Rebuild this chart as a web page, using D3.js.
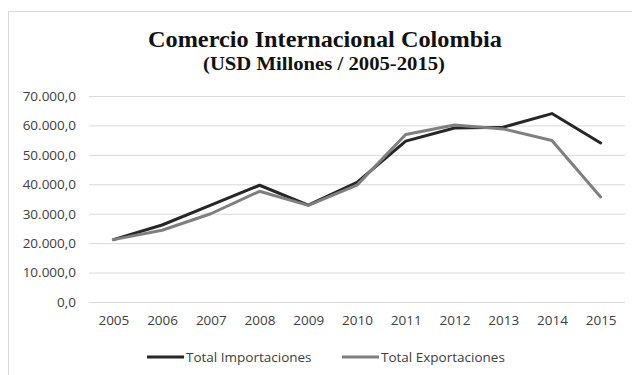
<!DOCTYPE html>
<html>
<head>
<meta charset="utf-8">
<script src="https://cdn.jsdelivr.net/npm/d3@7/dist/d3.min.js"></script>
<style>
  html, body { margin: 0; padding: 0; background: #fff; }
  svg { display: block; }
</style>
</head>
<body>
<svg id="chart" width="632" height="375"></svg>
<script>
// Colombia foreign trade, USD millions
const years = ["2005","2006","2007","2008","2009","2010","2011","2012","2013","2014","2015"];
const importaciones = [21204, 26162, 32897, 39669, 32898, 40683, 54675, 59111, 59397, 64029, 54058];
const exportaciones = [21190, 24391, 29991, 37626, 32846, 39713, 56915, 60125, 58824, 54857, 35691];
const yTicks = [0, 10000, 20000, 30000, 40000, 50000, 60000, 70000];
const seriesNames = ["Total Importaciones", "Total Exportaciones"];
const seriesColors = ["#262626", "#7f7f7f"];

const svg = d3.select("#chart");
const W = 632, H = 375;
const plot = { left: 89, right: 625, top: 96, bottom: 302 };

// chart frame
svg.append("rect")
  .attr("x", 8.5).attr("y", 11.5)
  .attr("width", W + 10).attr("height", H + 10)
  .attr("fill", "#fff").attr("stroke", "#d9d9d9").attr("stroke-width", 1);

// titles
const serif = "'Liberation Serif', 'Times New Roman', serif";
svg.append("text")
  .attr("x", 325).attr("y", 47)
  .attr("text-anchor", "middle")
  .attr("font-family", serif)
  .attr("font-weight", "bold").attr("font-size", 23)
  .attr("textLength", 354).attr("lengthAdjust", "spacingAndGlyphs")
  .attr("fill", "#111")
  .text("Comercio Internacional Colombia");
svg.append("text")
  .attr("x", 324).attr("y", 70)
  .attr("text-anchor", "middle")
  .attr("font-family", serif)
  .attr("font-weight", "bold").attr("font-size", 18.5)
  .attr("textLength", 242).attr("lengthAdjust", "spacingAndGlyphs")
  .attr("fill", "#111")
  .text("(USD Millones / 2005-2015)");

const x = d3.scalePoint().domain(years).range([plot.left, plot.right]).padding(0.5);
const y = d3.scaleLinear().domain([0, 70000]).range([plot.bottom, plot.top]);

const locale = d3.formatLocale({ decimal: ",", thousands: ".", grouping: [3], currency: ["$", ""] });
const fmt = locale.format(",.1f");

const labelFont = "'Open Sans', 'Noto Sans', sans-serif";
const labelSize = 13.5;

// y axis with gridlines
const yAxis = d3.axisLeft(y).tickValues(yTicks).tickFormat(fmt)
  .tickSize(-(plot.right - plot.left)).tickPadding(13);
const gy = svg.append("g").attr("transform", `translate(${plot.left},0)`).call(yAxis);
gy.select(".domain").remove();
gy.selectAll(".tick line").attr("stroke", "#d9d9d9").attr("stroke-width", 1);
gy.selectAll(".tick text")
  .attr("font-family", labelFont).attr("font-size", labelSize)
  .attr("fill", "#404040");

// x axis labels
const xAxis = d3.axisBottom(x).tickSize(0).tickPadding(13);
const gx = svg.append("g").attr("transform", `translate(0,${plot.bottom})`).call(xAxis);
gx.select(".domain").remove();
gx.selectAll(".tick text")
  .attr("font-family", labelFont).attr("font-size", labelSize)
  .attr("fill", "#404040");

// lines
const line = d3.line().x((d, i) => x(years[i])).y(d => y(d));
[importaciones, exportaciones].forEach((vals, k) => {
  svg.append("path")
    .datum(vals)
    .attr("d", line)
    .attr("fill", "none")
    .attr("stroke", seriesColors[k])
    .attr("stroke-width", 3)
    .attr("stroke-linejoin", "round")
    .attr("stroke-linecap", "round");
});

// legend
const legendY = 357;
const legendItems = [{ x: 147 }, { x: 342 }];
legendItems.forEach((it, k) => {
  const g = svg.append("g").attr("transform", `translate(${it.x},${legendY})`);
  g.append("line").attr("x1", 0).attr("x2", 37).attr("y1", 0).attr("y2", 0)
    .attr("stroke", seriesColors[k]).attr("stroke-width", 3);
  g.append("text").attr("x", 39).attr("y", 5)
    .attr("font-family", labelFont).attr("font-size", labelSize)
    .attr("fill", "#404040")
    .text(seriesNames[k]);
});
</script>
</body>
</html>
